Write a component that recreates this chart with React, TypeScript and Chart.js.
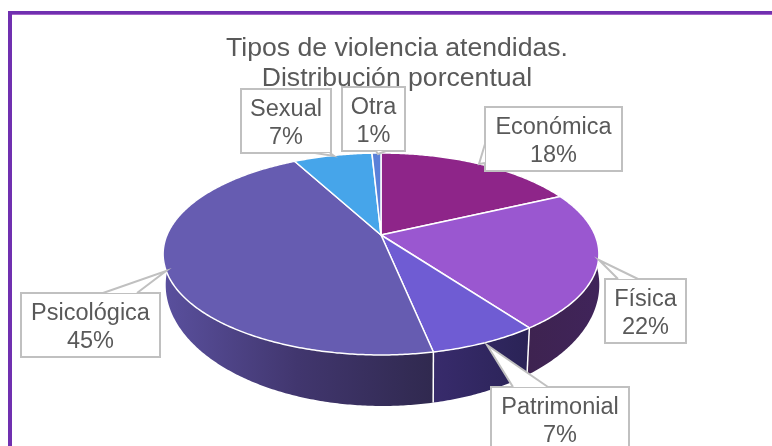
import React, { useEffect, useRef } from "react";
import { Chart, PieController, ArcElement, Title } from "chart.js";

const categories = ["Económica", "Física", "Patrimonial", "Psicológica", "Sexual", "Otra"];
const shares = [18, 22, 6.8, 45.4, 7, 0.8];
const titleLines = ["Tipos de violencia atendidas.", "Distribución porcentual"];

const topColors = ["#8E2589", "#9A57D0", "#6F5CD3", "#665CB1", "#46A5EA", "#5A80D8"];
const wallStops = [
  ["#5A1858", "#5A1858"],
  ["#3E2350", "#40245A"],
  ["#382B6C", "#2A2356"],
  ["#5A509E", "#41366E", "#30294F"],
  ["#2C6A96", "#2C6A96"],
  ["#3A5490", "#3A5490"],
];

// Perspective of the pie's two faces
const TOP = { cx: 381, cy: 235, a: 214, b: 97.4, k: 0.188 };
const BOTTOM = { cx: 382.5, cy: 265.5, a: 214, b: 118, k: 0.16 };
const project = (f: typeof TOP, t: number) => {
  const u = Math.cos(t), v = Math.sin(t), w = 1 - f.k * v;
  return [f.cx + (f.a * u) / w, f.cy + (f.b * v) / w];
};
const arcPoints = (f: typeof TOP, s: number, e: number) => {
  const n = Math.max(2, Math.ceil((e - s) / 0.01));
  const pts: number[][] = [];
  for (let i = 0; i <= n; i++) pts.push(project(f, s + ((e - s) * i) / n));
  return pts;
};

class PerspectiveArc extends (ArcElement as any) {
  static id = "perspectiveArc";
  draw(ctx: CanvasRenderingContext2D) {
    const { startAngle, endAngle, options } = this as any;
    ctx.save();
    ctx.beginPath();
    ctx.moveTo(TOP.cx, TOP.cy);
    arcPoints(TOP, startAngle, endAngle).forEach((p) => ctx.lineTo(p[0], p[1]));
    ctx.closePath();
    ctx.fillStyle = options.backgroundColor;
    ctx.fill();
    ctx.strokeStyle = options.borderColor;
    ctx.lineWidth = options.borderWidth;
    ctx.lineJoin = "round";
    ctx.stroke();
    ctx.restore();
  }
}

class Pie3DController extends (PieController as any) {
  static id = "pie3d";
  static defaults = { dataElementType: "perspectiveArc" };
}

const walls = {
  id: "walls",
  beforeDatasetsDraw(chart: any) {
    const { ctx } = chart;
    const arcs = chart.getDatasetMeta(0).data;
    arcs.forEach((el: any, i: number) => {
      const top = arcPoints(TOP, el.startAngle, el.endAngle);
      const bot = arcPoints(BOTTOM, el.startAngle, el.endAngle);
      const xs = top.concat(bot).map((p) => p[0]);
      const x0 = Math.min(...xs), x1 = Math.max(...xs);
      const g = ctx.createLinearGradient(x0, 0, x1, 0);
      wallStops[i].forEach((c, j) => g.addColorStop(j / (wallStops[i].length - 1), c));
      ctx.beginPath();
      top.forEach((p, j) => (j ? ctx.lineTo(p[0], p[1]) : ctx.moveTo(p[0], p[1])));
      bot.reverse().forEach((p) => ctx.lineTo(p[0], p[1]));
      ctx.closePath();
      ctx.fillStyle = g;
      ctx.fill();
    });
    arcs.forEach((el: any) => {
      if (Math.sin(el.startAngle) < 0.2) return;
      const a = project(TOP, el.startAngle), b = project(BOTTOM, el.startAngle);
      ctx.beginPath();
      ctx.moveTo(a[0], a[1]);
      ctx.lineTo(b[0], b[1]);
      ctx.strokeStyle = "#FFFFFF";
      ctx.lineWidth = 1.5;
      ctx.stroke();
    });
  },
};

// Callout boxes: [left, top, right, bottom] and pointer polygon
const callouts = [
  { box: [485, 107, 622, 171], ptr: [[485, 144], [479, 164], [485, 163]] },
  { box: [605, 279, 686, 343], ptr: [[638, 279], [599, 260], [618, 279]] },
  { box: [491, 387, 629, 451], ptr: [[513, 387], [487, 345], [548, 387]] },
  { box: [21, 293, 160, 357], ptr: [[103, 293], [166, 271], [137, 293]] },
  { box: [241, 89, 331, 153], ptr: [[315, 153], [334, 156], [330, 153]] },
  { box: [342, 87, 405, 151], ptr: [[376, 151], [378, 154], [386, 151]] },
];

const decorations = {
  id: "decorations",
  beforeDraw(chart: any) {
    const { ctx } = chart;
    ctx.save();
    ctx.fillStyle = "#7030B0";
    ctx.fillRect(8, 11, 764, 3);
    ctx.fillRect(8, 11, 4, 435);
    ctx.fillStyle = "#A565C9";
    ctx.fillRect(12, 14, 760, 1);
    ctx.restore();
  },
  afterDatasetsDraw(chart: any) {
    const { ctx } = chart;
    const values = chart.data.datasets[0].data;
    ctx.save();
    callouts.forEach((c, i) => {
      const [l, t, r, b] = c.box;
      ctx.beginPath();
      ctx.rect(l, t, r - l, b - t);
      ctx.fillStyle = "#FFFFFF";
      ctx.strokeStyle = "#C0C0C0";
      ctx.lineWidth = 2;
      ctx.fill();
      ctx.stroke();
      ctx.beginPath();
      c.ptr.forEach((p, j) => (j ? ctx.lineTo(p[0], p[1]) : ctx.moveTo(p[0], p[1])));
      ctx.closePath();
      ctx.fill();
      ctx.beginPath();
      c.ptr.forEach((p, j) => (j ? ctx.lineTo(p[0], p[1]) : ctx.moveTo(p[0], p[1])));
      ctx.stroke();
      ctx.fillStyle = "#595959";
      ctx.font = '23.5px "Liberation Sans"';
      ctx.textAlign = "center";
      ctx.textBaseline = "alphabetic";
      const mid = (l + r) / 2;
      ctx.fillText(chart.data.labels[i], mid, t + 27);
      ctx.fillText(Math.round(values[i]) + "%", mid, t + 55);
    });
    ctx.restore();
  },
};

Chart.register(PieController, ArcElement, Title, PerspectiveArc as any, Pie3DController as any);

export default function App() {
  const ref = useRef<HTMLCanvasElement>(null);
  useEffect(() => {
    const chart = new Chart(ref.current!, {
      type: "pie3d" as any,
      data: {
        labels: categories,
        datasets: [
          {
            data: shares,
            backgroundColor: topColors,
            borderColor: "#FFFFFF",
            borderWidth: 1.5,
          },
        ],
      },
      options: {
        responsive: false,
        animation: false,
        layout: { padding: { left: 22 } },
        plugins: {
          legend: { display: false },
          tooltip: { enabled: false },
          title: {
            display: true,
            text: titleLines,
            color: "#595959",
            fullSize: false,
            font: { family: '"Liberation Sans"', size: 26.6, weight: "normal", lineHeight: 1.12 },
            padding: { top: 34, bottom: 0 },
          },
        } as any,
      } as any,
      plugins: [walls, decorations],
    } as any);
    return () => chart.destroy();
  }, []);
  return (
    <div style={{ position: "fixed", left: 0, top: 0, width: 772, height: 446, overflow: "hidden", background: "#fff" }}>
      <canvas ref={ref} width={772} height={446} style={{ display: "block" }} />
    </div>
  );
}
